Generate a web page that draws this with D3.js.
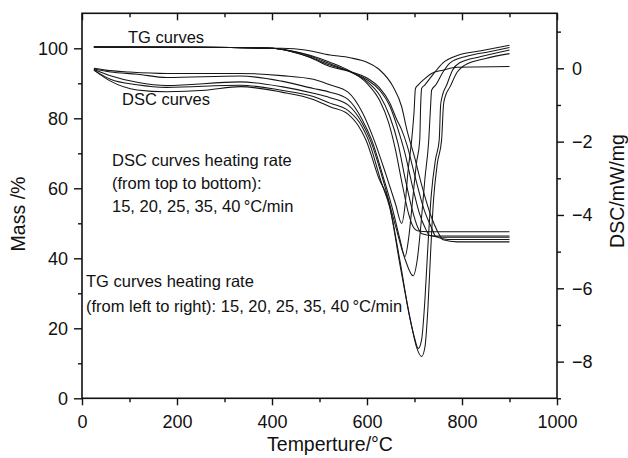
<!DOCTYPE html>
<html>
<head>
<meta charset="utf-8">
<script src="https://cdn.jsdelivr.net/npm/d3@7"></script>
<style>
  body { margin: 0; background: #fff; }
  svg text { font-family: "Liberation Sans", Arial, Helvetica, sans-serif; fill: #111; }
</style>
</head>
<body>
<div id="chart"></div>
<script>
// ---- data ----
var xTicks = [0, 200, 400, 600, 800, 1000];
var xMinor = [100, 300, 500, 700, 900];
var massTicks = [0, 20, 40, 60, 80, 100];
var massMinor = [10, 30, 50, 70, 90];
var dscTicks = [-8, -6, -4, -2, 0];
var dscMinor = [-9, -7, -5, -3, -1, 1];

// TG curves, mass % vs temperature, heating rates 15, 20, 25, 35, 40 C/min
var tg15 = [[25,100.4],[250,100.3],[400,100],[440,99.3],[480,98],[522,96],[564,93.5],[600,90],[627,85],[645,79],[660,71],[673,62],[688,52.5],[698,48.8],[706,47.9],[730,47.6],[900,47.6]];
var tg20 = [[25,100.4],[250,100.3],[400,100],[440,99.2],[480,97.8],[522,95.6],[564,93.3],[600,90.5],[627,86.5],[648,80.5],[665,73],[680,63],[695,54],[707,48.8],[716,47],[740,46.4],[900,46.4]];
var tg25 = [[25,100.4],[250,100.3],[400,100],[440,99.1],[480,97.5],[522,95.2],[564,93.4],[600,91],[627,88],[648,83.5],[665,77],[680,70],[695,61],[710,53],[722,48.8],[732,46.5],[760,46],[900,46]];
var tg35 = [[25,100.4],[250,100.3],[400,100],[440,99.1],[480,97.4],[522,94.8],[564,93.4],[600,91.5],[627,88.6],[648,84.4],[663,79.5],[673,76.7],[685,72],[700,64],[720,54],[735,49],[745,46.2],[770,45.4],[900,45.4]];
var tg40 = [[25,100.4],[250,100.3],[420,100],[470,99.5],[522,98.1],[564,97.3],[600,96],[627,93.8],[655,89],[673,83.3],[684,76.7],[700,69],[715,61],[735,52],[750,47.3],[760,45.3],[790,44.7],[900,44.7]];

// DSC curves, mW/mg vs temperature
var dsc15 = [[25,0],[50,-0.05],[100,-0.1],[178,-0.14],[333,-0.14],[420,-0.2],[487,-0.3],[522,-0.45],[560,-0.65],[590,-1.2],[615,-1.96],[640,-2.9],[660,-3.7],[673,-4.23],[680,-3.75],[686,-2.85],[694,-1.96],[699,-1.2],[702,-0.55],[708,-0.45],[720,-0.3],[735,-0.15],[760,-0.05],[790,0.03],[900,0.05]];
var dsc20 = [[25,-0.02],[60,-0.1],[116,-0.16],[178,-0.25],[333,-0.21],[420,-0.35],[487,-0.55],[522,-0.65],[560,-0.85],[590,-1.4],[610,-1.96],[635,-3.0],[655,-3.9],[670,-4.7],[680,-5.14],[688,-4.6],[696,-3.6],[704,-2.6],[711,-1.96],[713,-1.0],[715,-0.55],[722,-0.45],[740,-0.15],[760,0.15],[790,0.35],[840,0.48],[900,0.63]];
var dsc25 = [[25,-0.03],[60,-0.2],[116,-0.38],[178,-0.47],[333,-0.37],[420,-0.5],[487,-0.68],[522,-0.8],[560,-1.0],[590,-1.5],[607,-1.96],[635,-3.1],[660,-4.3],[680,-5.2],[697,-5.66],[706,-5.2],[714,-4.2],[722,-3.0],[730,-1.96],[734,-1.0],[736,-0.6],[745,-0.45],[760,-0.1],[775,0.15],[810,0.33],[860,0.46],[900,0.57]];
var dsc35 = [[25,-0.05],[60,-0.3],[116,-0.45],[178,-0.52],[333,-0.46],[420,-0.6],[487,-0.77],[522,-0.95],[560,-1.15],[590,-1.6],[603,-1.96],[630,-3.1],[648,-3.8],[670,-5.3],[690,-6.8],[700,-7.35],[708,-7.64],[715,-7.4],[722,-6.3],[728,-4.9],[735,-3.5],[744,-2.5],[752,-1.96],[755,-1.0],[758,-0.78],[768,-0.45],[780,-0.05],[795,0.15],[840,0.32],[900,0.5]];
var dsc40 = [[25,-0.05],[60,-0.35],[116,-0.59],[178,-0.64],[260,-0.6],[333,-0.5],[420,-0.65],[487,-0.85],[522,-1.05],[560,-1.25],[588,-1.7],[598,-1.96],[625,-3.0],[645,-3.6],[670,-5.4],[692,-6.9],[704,-7.59],[715,-7.86],[722,-7.6],[728,-6.6],[734,-5.0],[740,-3.6],[748,-2.6],[757,-1.96],[761,-1.0],[764,-0.8],[775,-0.5],[790,-0.1],[805,0.08],[850,0.27],[900,0.4]];

var tgCurves = [tg15, tg20, tg25, tg35, tg40];
var dscCurves = [dsc15, dsc20, dsc25, dsc35, dsc40];

// ---- layout ----
var svgwidth = 628;
var svgheight = 458;
var plotLeft = 82, plotRight = 557, plotTop = 13.3, plotBottom = 398.3;

var svg = d3
  .select("#chart")
  .append("svg")
  .attr("width", svgwidth)
  .attr("height", svgheight);

var xscale = d3.scaleLinear().domain([0, 1000]).range([plotLeft, plotRight]);
var yMass = d3.scaleLinear().domain([0, 110]).range([plotBottom, plotTop]);
var yDsc = d3.scaleLinear().domain([-9, 1.5]).range([plotBottom, plotTop]);

// curves
var tgLine = d3.line()
  .x((d) => xscale(d[0]))
  .y((d) => yMass(d[1]))
  .curve(d3.curveMonotoneX);

var dscLine = d3.line()
  .x((d) => xscale(d[0]))
  .y((d) => yDsc(d[1]))
  .curve(d3.curveMonotoneX);

var curves = svg.append("g").attr("fill", "none").attr("stroke", "#161616").attr("stroke-width", 1.05);

curves.selectAll(".tg").data(tgCurves).join("path").attr("class", "tg").attr("d", tgLine);
curves.selectAll(".dsc").data(dscCurves).join("path").attr("class", "dsc").attr("d", dscLine);

// axes
function styleAxis(g, size) {
  g.select(".domain").remove();
  g.selectAll("line").attr("stroke", "#111").attr("stroke-width", 1.4);
  g.selectAll("text").style("font-size", size).attr("fill", "#111");
}

svg.append("g")
  .attr("transform", "translate(0," + plotBottom + ")")
  .call(d3.axisBottom(xscale).tickValues(xTicks).tickSize(7).tickPadding(10).tickFormat(d3.format("d")))
  .call(styleAxis, "18px");
svg.append("g")
  .attr("transform", "translate(0," + plotBottom + ")")
  .call(d3.axisBottom(xscale).tickValues(xMinor).tickSize(4).tickFormat(""))
  .call(styleAxis, "18px");

// top axis, ticks inward
svg.append("g")
  .attr("transform", "translate(0," + plotTop + ")")
  .call(d3.axisBottom(xscale).tickValues(xTicks).tickSize(7).tickFormat(""))
  .call(styleAxis, "18px");
svg.append("g")
  .attr("transform", "translate(0," + plotTop + ")")
  .call(d3.axisBottom(xscale).tickValues(xMinor).tickSize(4).tickFormat(""))
  .call(styleAxis, "18px");

svg.append("g")
  .attr("transform", "translate(" + plotLeft + ",0)")
  .call(d3.axisLeft(yMass).tickValues(massTicks).tickSize(8).tickPadding(6))
  .call(styleAxis, "18px");
svg.append("g")
  .attr("transform", "translate(" + plotLeft + ",0)")
  .call(d3.axisLeft(yMass).tickValues(massMinor).tickSize(4).tickFormat(""))
  .call(styleAxis, "18px");

svg.append("g")
  .attr("transform", "translate(" + plotRight + ",0)")
  .call(d3.axisRight(yDsc).tickValues(dscTicks).tickSize(7).tickPadding(8))
  .call(styleAxis, "18px");
svg.append("g")
  .attr("transform", "translate(" + plotRight + ",0)")
  .call(d3.axisRight(yDsc).tickValues(dscMinor).tickSize(4).tickFormat(""))
  .call(styleAxis, "18px");

// frame
svg.append("rect")
  .attr("x", plotLeft)
  .attr("y", plotTop)
  .attr("width", plotRight - plotLeft)
  .attr("height", plotBottom - plotTop)
  .attr("fill", "none")
  .attr("stroke", "#111")
  .attr("stroke-width", 1.6);

// axis titles
svg.append("text")
  .attr("x", 330)
  .attr("y", 451)
  .style("text-anchor", "middle")
  .style("font-size", "19.5px")
  .text("Temperture/°C");

svg.append("text")
  .attr("transform", "translate(25,214) rotate(-90)")
  .style("text-anchor", "middle")
  .style("font-size", "19.5px")
  .text("Mass /%");

svg.append("text")
  .attr("transform", "translate(624,191) rotate(-90)")
  .style("text-anchor", "middle")
  .style("font-size", "19.5px")
  .text("DSC/mW/mg");

// annotations
var notes = svg.append("g").style("font-size", "16.5px");
notes.append("text").attr("x", 128).attr("y", 43).text("TG curves");
notes.append("text").attr("x", 122).attr("y", 105).text("DSC curves");
notes.append("text").attr("x", 112).attr("y", 166).text("DSC curves heating rate");
notes.append("text").attr("x", 112).attr("y", 189).text("(from top to bottom):");
notes.append("text").attr("x", 112).attr("y", 212).text("15, 20, 25, 35, 40\u2009°C/min");
notes.append("text").attr("x", 86).attr("y", 287).text("TG curves heating rate");
notes.append("text").attr("x", 86).attr("y", 312).text("(from left to right): 15, 20, 25, 35, 40\u2009°C/min");
</script>
</body>
</html>
